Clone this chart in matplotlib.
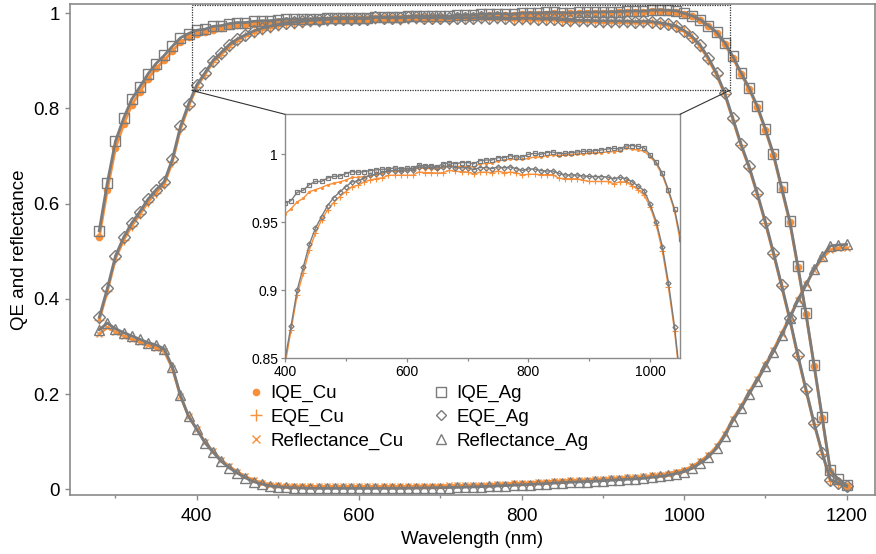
import matplotlib
matplotlib.use("Agg")
import matplotlib.pyplot as plt
from matplotlib.patches import Rectangle, ConnectionPatch
from matplotlib.lines import Line2D
from matplotlib.ticker import FuncFormatter, MultipleLocator

plt.rcParams['font.family'] = ['Liberation Sans', 'DejaVu Sans']

# Wavelength grid (nm)
wavelength = list(range(280, 1210, 10))

iqe_ag = [0.543, 0.644, 0.731, 0.779, 0.819, 0.845, 0.872, 0.894, 0.911, 0.930, 0.948, 0.957,
          0.964, 0.966, 0.972, 0.9735, 0.9777, 0.980, 0.980, 0.9826, 0.9838, 0.984,
          0.9858, 0.9873, 0.9868, 0.9873, 0.988, 0.9885, 0.989, 0.9892, 0.990, 0.9895,
          0.9897, 0.9897, 0.992, 0.9915, 0.9915, 0.991, 0.993, 0.9939, 0.993, 0.9939,
          0.9939, 0.993, 0.9953, 0.9958, 0.9958, 0.9975, 0.9975, 0.999, 0.998, 0.998,
          1.000, 1.0007, 1.000, 1.0012, 1.0017, 1.0005, 1.0007, 1.0012, 1.0017, 1.0022,
          1.0022, 1.0027, 1.0032, 1.0039, 1.0044, 1.0039, 1.0061, 1.0064, 1.0059, 1.0047,
          0.9995, 0.9941, 0.986, 0.9738, 0.9598, 0.938, 0.909, 0.875, 0.843, 0.805,
          0.757, 0.704, 0.634, 0.564, 0.469, 0.370, 0.261, 0.151, 0.040, 0.021, 0.008]

iqe_cu = [0.529, 0.629, 0.716, 0.766, 0.807, 0.834, 0.862, 0.884, 0.901, 0.920, 0.939, 0.949,
          0.956, 0.960, 0.965, 0.9676, 0.9725, 0.974, 0.9755, 0.9775, 0.9787, 0.9797,
          0.981, 0.983, 0.983, 0.9836, 0.984, 0.9855, 0.986, 0.9875, 0.988, 0.9878,
          0.988, 0.9885, 0.990, 0.9895, 0.9895, 0.989, 0.9905, 0.9915, 0.991, 0.9912,
          0.991, 0.9905, 0.993, 0.9932, 0.9935, 0.995, 0.9958, 0.9965, 0.9963, 0.9962,
          0.997, 0.998, 0.998, 0.999, 0.9995, 0.999, 0.9995, 0.9998, 1.000, 1.0003,
          1.0007, 1.001, 1.0012, 1.0017, 1.002, 1.0022, 1.0047, 1.0037, 1.0032, 1.0022,
          0.9983, 0.9929, 0.9846, 0.9725, 0.9583, 0.9346, 0.906, 0.872, 0.840, 0.802,
          0.754, 0.701, 0.631, 0.561, 0.466, 0.367, 0.259, 0.149, 0.038, 0.018, 0.006]

eqe_ag = [0.361, 0.422, 0.490, 0.529, 0.559, 0.583, 0.609, 0.629, 0.646, 0.693, 0.762, 0.809,
          0.849, 0.874, 0.9002, 0.9169, 0.9338, 0.9456, 0.9542, 0.9623, 0.9681, 0.9723,
          0.9762, 0.9797, 0.9804, 0.9824, 0.9846, 0.9853, 0.9865, 0.988, 0.988, 0.988,
          0.9885, 0.9885, 0.9907, 0.9904, 0.9904, 0.990, 0.9907, 0.9912, 0.9902, 0.990,
          0.9902, 0.9887, 0.9902, 0.9902, 0.9895, 0.9907, 0.990, 0.9907, 0.9895, 0.9882,
          0.9892, 0.9892, 0.988, 0.9877, 0.9877, 0.986, 0.9848, 0.9848, 0.9848, 0.984,
          0.9838, 0.9836, 0.9836, 0.9833, 0.9819, 0.9831, 0.9821, 0.9799, 0.9767, 0.9733,
          0.9632, 0.9505, 0.9321, 0.9056, 0.8733, 0.832, 0.779, 0.725, 0.678, 0.622,
          0.562, 0.497, 0.429, 0.359, 0.282, 0.210, 0.139, 0.077, 0.020, 0.013, 0.006]

eqe_cu = [0.355, 0.416, 0.484, 0.523, 0.553, 0.577, 0.603, 0.623, 0.640, 0.687, 0.756, 0.804,
          0.845, 0.8708, 0.8966, 0.9125, 0.9297, 0.9419, 0.9517, 0.9591, 0.9645, 0.9689,
          0.9725, 0.9762, 0.9772, 0.9797, 0.9811, 0.9821, 0.9826, 0.9846, 0.9846, 0.9846,
          0.9846, 0.9846, 0.987, 0.9865, 0.9865, 0.9862, 0.9865, 0.9882, 0.9875, 0.9872,
          0.987, 0.9855, 0.9868, 0.9868, 0.9865, 0.9877, 0.9865, 0.9868, 0.9865, 0.9848,
          0.9853, 0.9853, 0.985, 0.985, 0.985, 0.9824, 0.982, 0.982, 0.982, 0.981,
          0.980, 0.980, 0.980, 0.980, 0.9784, 0.9797, 0.9797, 0.977, 0.974, 0.970,
          0.9615, 0.948, 0.929, 0.9022, 0.8703, 0.829, 0.776, 0.722, 0.675, 0.619,
          0.559, 0.494, 0.426, 0.356, 0.279, 0.207, 0.137, 0.075, 0.018, 0.011, 0.004]

refl_ag = [0.335, 0.349, 0.337, 0.329, 0.322, 0.315, 0.308, 0.303, 0.295, 0.257, 0.197, 0.153,
           0.126, 0.098, 0.078, 0.059, 0.045, 0.034, 0.024, 0.016, 0.011, 0.007,
           0.005, 0.004, 0.003, 0.0025, 0.002, 0.002, 0.002, 0.002, 0.002, 0.002,
           0.002, 0.002, 0.002, 0.002, 0.002, 0.002, 0.0022, 0.0025, 0.0028, 0.003,
           0.0033, 0.0037, 0.004, 0.0045, 0.005, 0.0056, 0.0063, 0.007, 0.0078, 0.0085,
           0.0093, 0.010, 0.011, 0.012, 0.013, 0.014, 0.0148, 0.0155, 0.0163, 0.017,
           0.018, 0.019, 0.020, 0.021, 0.022, 0.023, 0.025, 0.027, 0.029, 0.033,
           0.037, 0.044, 0.055, 0.068, 0.086, 0.112, 0.144, 0.170, 0.200, 0.228,
           0.258, 0.289, 0.323, 0.359, 0.396, 0.429, 0.462, 0.489, 0.511, 0.513, 0.514]

refl_cu = [0.326, 0.340, 0.330, 0.322, 0.315, 0.309, 0.302, 0.297, 0.290, 0.254, 0.195, 0.153,
           0.127, 0.100, 0.080, 0.062, 0.048, 0.037, 0.027, 0.019, 0.014, 0.010,
           0.008, 0.007, 0.007, 0.006, 0.006, 0.006, 0.006, 0.006, 0.006, 0.006,
           0.006, 0.006, 0.006, 0.006, 0.006, 0.006, 0.006, 0.0065, 0.007, 0.007,
           0.0075, 0.008, 0.008, 0.0085, 0.009, 0.0095, 0.010, 0.011, 0.012, 0.0125,
           0.013, 0.014, 0.015, 0.016, 0.017, 0.018, 0.019, 0.0195, 0.020, 0.021,
           0.022, 0.023, 0.024, 0.025, 0.026, 0.027, 0.029, 0.031, 0.033, 0.037,
           0.041, 0.048, 0.059, 0.072, 0.090, 0.116, 0.148, 0.174, 0.204, 0.232,
           0.262, 0.293, 0.327, 0.362, 0.398, 0.430, 0.460, 0.485, 0.503, 0.506, 0.507]

ORANGE = '#F99039'
GRAY = '#7B7B7B'
SPINE = '#8A8A8A'

fig = plt.figure(figsize=(8.76, 5.54), dpi=100)
ax = fig.add_axes([70 / 876, 59 / 554, 805 / 876, 491.5 / 554])

cu_style = dict(color=ORANGE, lw=2.0)
ax.plot(wavelength, iqe_cu, marker='o', ms=4.5, mec=ORANGE, mfc=ORANGE, **cu_style, zorder=2)
ax.plot(wavelength, eqe_cu, marker='+', ms=6.5, mew=1.0, **cu_style, zorder=2)
ax.plot(wavelength, refl_cu, marker='x', ms=5, mew=1.0, **cu_style, zorder=2)

ag_style = dict(color=GRAY, lw=2.0, mfc='none', mec=GRAY, mew=1.0)
ax.plot(wavelength, iqe_ag, marker='s', ms=7.5, **ag_style, zorder=3)
ax.plot(wavelength, eqe_ag, marker='D', ms=6, **ag_style, zorder=3)
ax.plot(wavelength, refl_ag, marker='^', ms=7.5, **ag_style, zorder=3)

ax.set_xlim(244, 1235)
ax.set_ylim(-0.012, 1.02)
ax.set_xticks([400, 600, 800, 1000, 1200])
ax.xaxis.set_minor_locator(MultipleLocator(100))
ax.set_yticks([0, 0.2, 0.4, 0.6, 0.8, 1.0])
ax.yaxis.set_major_formatter(FuncFormatter(lambda v, p: f"{v:g}"))

for s in ax.spines.values():
    s.set_color(SPINE)
    s.set_linewidth(1.2)
ax.tick_params(axis='both', which='major', direction='out', length=3.5, width=1.0,
               color=SPINE, labelsize=13.5, labelcolor='black')
ax.tick_params(axis='x', which='major', pad=6)
ax.tick_params(axis='y', which='major', pad=4)
ax.tick_params(axis='x', which='minor', direction='out', length=2.5, width=1.0, color=SPINE)
ax.set_xlabel('Wavelength (nm)', fontsize=13.5, labelpad=4)
ax.set_ylabel('QE and reflectance', fontsize=13.5, labelpad=4)

# Legend (markers only, two columns)
handles = [
    Line2D([], [], ls='none', marker='o', ms=4.5, color=ORANGE),
    Line2D([], [], ls='none', marker='+', ms=9, mew=1.0, color=ORANGE),
    Line2D([], [], ls='none', marker='x', ms=6, mew=1.0, color=ORANGE),
    Line2D([], [], ls='none', marker='s', ms=6.5, mfc='none', mec=GRAY, mew=1.0),
    Line2D([], [], ls='none', marker='D', ms=5.5, mfc='none', mec=GRAY, mew=1.0),
    Line2D([], [], ls='none', marker='^', ms=7.5, mfc='none', mec=GRAY, mew=1.0),
]
labels = ['IQE_Cu', 'EQE_Cu', 'Reflectance_Cu', 'IQE_Ag', 'EQE_Ag', 'Reflectance_Ag']
ax.legend(handles, labels, ncol=2, frameon=False, fontsize=13.5,
          loc='upper left', bbox_to_anchor=(248 / 876, 1 - 385 / 554),
          bbox_transform=fig.transFigure, borderpad=0, borderaxespad=0,
          handlelength=0.8, handletextpad=0.4, columnspacing=1.6, labelspacing=0.35)

# Zoomed inset of the plateau region
axin = fig.add_axes([285 / 876, (554 - 358.3) / 554, 395 / 876, 244 / 554])
axin.plot(wavelength, iqe_cu, marker='.', ms=2.5, color=ORANGE, lw=1.0, zorder=2)
axin.plot(wavelength, eqe_cu, marker='+', ms=4, mew=0.8, color=ORANGE, lw=1.0, zorder=2)
axin.plot(wavelength, iqe_ag, marker='s', ms=3, mfc='none', mec=GRAY, mew=0.9, color=GRAY, lw=1.0, zorder=3)
axin.plot(wavelength, eqe_ag, marker='D', ms=2.6, mfc='none', mec=GRAY, mew=0.9, color=GRAY, lw=1.0, zorder=3)
axin.set_xlim(400, 1049)
axin.set_ylim(0.85, 1.0294)
axin.set_xticks([400, 600, 800, 1000])
axin.xaxis.set_minor_locator(MultipleLocator(100))
axin.set_yticks([0.85, 0.9, 0.95, 1.0])
axin.yaxis.set_major_formatter(FuncFormatter(lambda v, p: f"{v:g}"))
for s in axin.spines.values():
    s.set_color(SPINE)
    s.set_linewidth(1.0)
axin.tick_params(axis='both', which='major', direction='out', length=3, width=0.9,
                 color=SPINE, labelsize=10, pad=2)
axin.tick_params(axis='x', which='minor', direction='out', length=2, width=0.9, color=SPINE)

# Region marker on the main axes and connectors to the inset
x0, x1, y0, y1 = 394, 1056, 0.8375, 1.0168
ax.add_patch(Rectangle((x0, y0), x1 - x0, y1 - y0, fill=False, ec='#333333',
                       lw=0.9, ls=(0, (1, 1)), zorder=4))
for (xa, xb) in [((x0, y0), (0, 1)), ((x1, y0), (1, 1))]:
    con = ConnectionPatch(xyA=xa, coordsA=ax.transData, xyB=xb, coordsB=axin.transAxes,
                          color='#333333', lw=0.8, zorder=5)
    fig.add_artist(con)

fig.savefig('out.png', dpi=100)
